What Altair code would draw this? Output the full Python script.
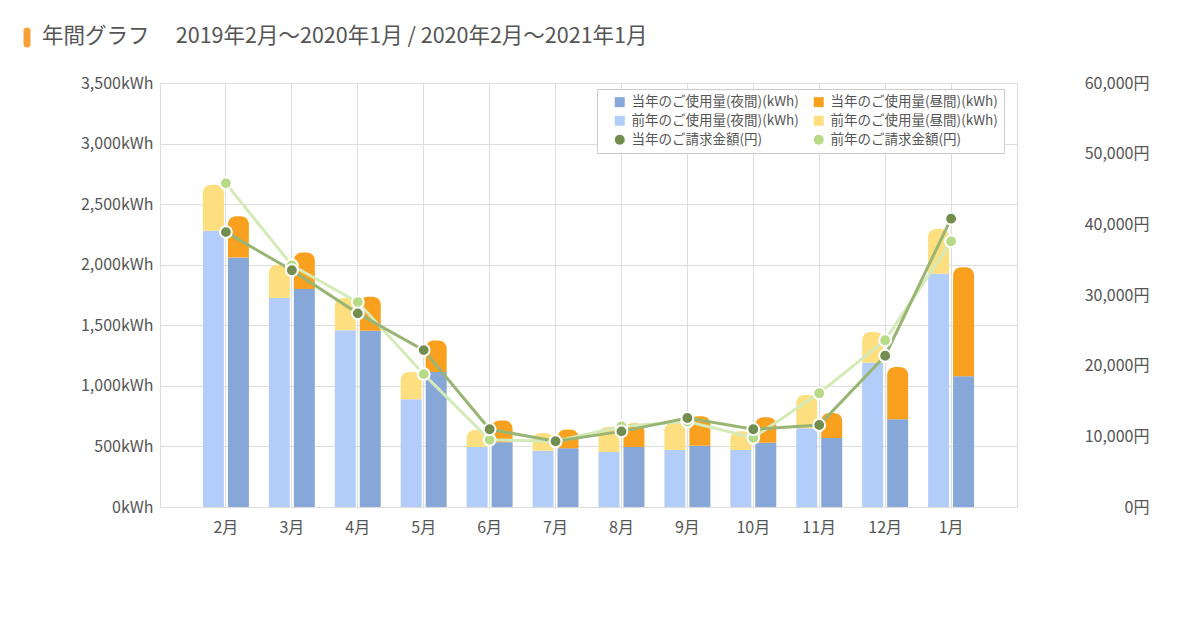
import altair as alt
import pandas as pd

FONT = 'Noto Sans CJK JP'

months = ['2月', '3月', '4月', '5月', '6月', '7月', '8月', '9月', '10月', '11月', '12月', '1月']

# 使用量 (kWh)
cur_night = [2060, 1800, 1455, 1115, 535, 485, 495, 505, 530, 570, 725, 1080]
cur_day = [340, 300, 280, 260, 180, 155, 195, 245, 210, 205, 430, 900]
prev_night = [2280, 1725, 1460, 890, 495, 465, 455, 470, 470, 650, 1190, 1925]
prev_day = [380, 275, 265, 225, 140, 145, 205, 225, 155, 275, 255, 370]

# 請求金額 (円)
cur_bill = [38900, 33500, 27400, 22200, 11000, 9300, 10700, 12600, 11000, 11600, 21400, 40800]
prev_bill = [45800, 34200, 29000, 18800, 9500, 9300, 11400, 12100, 9800, 16100, 23600, 37600]

# legend fills column by column, so the order is col1 then col2
series = ['当年のご使用量(夜間)(kWh)', '前年のご使用量(夜間)(kWh)', '当年のご請求金額(円)',
          '当年のご使用量(昼間)(kWh)', '前年のご使用量(昼間)(kWh)', '前年のご請求金額(円)']
colors = ['#86a7d7', '#b3cdfb', '#738d4e', '#f9a11f', '#fddf80', '#b6da86']
shapes = ['square', 'square', 'circle', 'square', 'square', 'circle']

CUR_NIGHT, PREV_NIGHT, CUR_BILL, CUR_DAY, PREV_DAY, PREV_BILL = series

# stacked bar table
rows = []
for i, m in enumerate(months):
    rows.append((m, '前年', PREV_NIGHT, 'night', 0, prev_night[i]))
    rows.append((m, '前年', PREV_DAY, 'day', prev_night[i], prev_night[i] + prev_day[i]))
    rows.append((m, '当年', CUR_NIGHT, 'night', 0, cur_night[i]))
    rows.append((m, '当年', CUR_DAY, 'day', cur_night[i], cur_night[i] + cur_day[i]))
usage = pd.DataFrame(rows, columns=['month', 'year', 'series', 'part', 'y0', 'y1'])

bill = pd.concat([
    pd.DataFrame({'month': months, 'series': PREV_BILL, 'bill': prev_bill}),
    pd.DataFrame({'month': months, 'series': CUR_BILL, 'bill': cur_bill}),
], ignore_index=True)

legend = alt.Legend(
    title=None, orient='none', legendX=437, legendY=6, columns=2,
    columnPadding=3, rowPadding=4, symbolSize=100, symbolStrokeWidth=0,
    symbolOffset=10, labelOffset=5,
    labelFontSize=13.5, labelColor='#555', labelFont=FONT, labelLimit=300,
    fillColor='white', strokeColor='#ccc', padding=6,
)
color = alt.Color('series:N', scale=alt.Scale(domain=series, range=colors), legend=legend)

x = alt.X('month:N', sort=months, title=None,
          scale=alt.Scale(domain=months, paddingInner=0, paddingOuter=0.5),
          axis=alt.Axis(labelAngle=0, grid=True, gridColor='#ddd', bandPosition=0.5,
                        ticks=False, domain=False, labelPadding=12,
                        labelFontSize=16, labelColor='#555', labelFont=FONT))
x_off = alt.XOffset('year:N', scale=alt.Scale(domain=['前年', '当年'],
                                              paddingInner=0.16, paddingOuter=0.4))

left_axis = alt.Axis(values=list(range(0, 3501, 500)),
                     labelExpr="format(datum.value, ',') + 'kWh'",
                     ticks=False, domain=False, gridColor='#ddd', labelPadding=7,
                     labelFontSize=16, labelColor='#555', labelFont=FONT)
right_axis = alt.Axis(orient='right', values=list(range(0, 60001, 10000)),
                      labelExpr="format(datum.value, ',') + '円'",
                      grid=False, ticks=False, domain=False,
                      labelAlign='right', labelPadding=132,
                      labelFontSize=16, labelColor='#555', labelFont=FONT)
y_left = alt.Y('y1:Q', title=None, scale=alt.Scale(domain=[0, 3500], nice=False), axis=left_axis)
y_right = alt.Y('bill:Q', title=None, scale=alt.Scale(domain=[0, 60000], nice=False), axis=right_axis)

base = alt.Chart(usage)
night = base.transform_filter(alt.datum.part == 'night').mark_bar().encode(
    x=x, xOffset=x_off, y=y_left, y2='y0:Q', color=color)
day = base.transform_filter(alt.datum.part == 'day').mark_bar(
    cornerRadiusTopLeft=8, cornerRadiusTopRight=8).encode(
    x=x, xOffset=x_off, y=y_left, y2='y0:Q', color=color)

# orange marker in front of the title
marker = alt.Chart(pd.DataFrame({'k': [0]})).mark_rule(
    color='#f7a035', strokeWidth=7, strokeCap='round').encode(
    x=alt.value(-133), y=alt.value(-52), y2=alt.value(-39))

bars = alt.layer(night, day, marker)

bill_base = alt.Chart(bill)
prev_line = bill_base.transform_filter(alt.datum.series == PREV_BILL).mark_line(
    color='#d4eab8', strokeWidth=3).encode(x=x, y=y_right)
cur_line = bill_base.transform_filter(alt.datum.series == CUR_BILL).mark_line(
    color='#98b574', strokeWidth=3).encode(x=x, y=y_right)
points = bill_base.mark_point(filled=True, size=140, stroke='white',
                              strokeWidth=2, opacity=1).encode(
    x=x, y=y_right, color=color,
    shape=alt.Shape('series:N', scale=alt.Scale(domain=series, range=shapes), legend=legend))

lines = alt.layer(prev_line, cur_line, points)

chart = alt.layer(bars, lines).resolve_scale(y='independent').properties(
    width=857, height=424,
    autosize=alt.AutoSizeParams(type='none'),
    padding={'left': 152, 'top': 75, 'right': 175, 'bottom': 80},
    title=alt.TitleParams(
        text='年間グラフ　 2019年2月〜2020年1月 / 2020年2月〜2021年1月',
        anchor='start', frame='group', dx=-118, offset=0, dy=31, baseline='middle',
        fontSize=21.5, font=FONT, color='#555', fontWeight='normal'),
).configure_view(stroke='#ddd')

chart.save('out.html', embed_options={'renderer': 'svg', 'actions': False})
